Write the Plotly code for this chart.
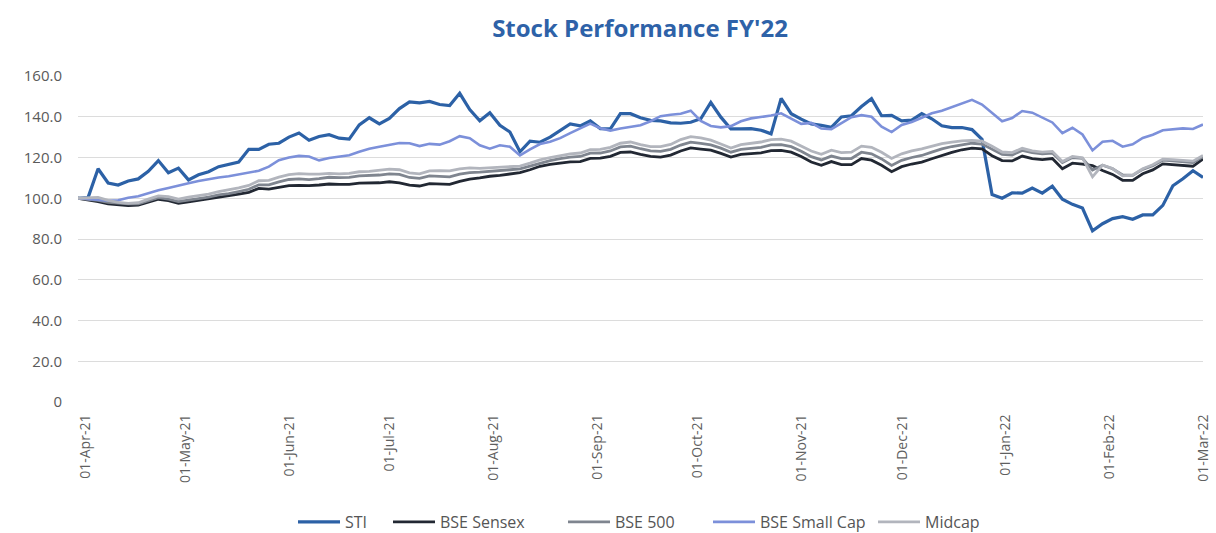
import pandas as pd
import plotly.graph_objects as go

# Trading dates sampled every third day across FY'22
dates = pd.date_range("2021-04-01", periods=113, freq="3D")

sti = [100, 100.3, 114.5, 107.5, 106.5, 108.5, 109.5, 113.2, 118.5, 112.5,
       114.8, 109, 111.5, 113, 115.5, 116.5, 117.8, 124, 124, 126.5,
       127, 130, 132, 128.5, 130.3, 131.2, 129.5, 129, 136, 139.5,
       136.5, 139.2, 144, 147.3, 146.8, 147.5, 146, 145.5, 151.5, 143.5,
       138, 142, 135.8, 132.5, 122.8, 128, 127.5, 130, 133.3, 136.5,
       135.5, 138, 134.2, 134, 141.5, 141.5, 139.5, 138.2, 138, 137,
       136.8, 137.3, 139, 147, 139.8, 134, 134, 134.2, 133.4, 131.6,
       149, 141.5, 138.8, 136.5, 135.8, 134.8, 139.9, 140.5, 145, 148.9,
       140.5, 140.7, 138, 138.3, 141.5, 139, 135.6, 134.7, 134.7, 133.7,
       128.9, 101.8, 100, 102.7, 102.5, 105, 102.5, 105.9, 99.5, 97,
       95.2, 84, 87.5, 90, 91, 89.7, 91.8, 91.8, 96.5, 106.1,
       109.6, 113.5, 110.2]

sensex = [100, 99.3, 98.3, 97.2, 96.8, 96.4, 96.6, 98, 99.5, 98.8,
          97.5, 98.2, 98.9, 99.7, 100.6, 101.1, 102, 102.9, 104.8, 104.5,
          105.5, 106.2, 106.3, 106.2, 106.5, 107, 106.8, 106.8, 107.4, 107.4,
          107.6, 108.1, 107.6, 106.4, 106, 107.2, 106.9, 106.8, 108.3, 109.4,
          110, 110.8, 111.2, 111.9, 112.6, 114, 115.7, 116.6, 117.4, 117.9,
          118, 119.6, 119.7, 120.6, 122.5, 122.7, 121.5, 120.5, 120.2, 121.2,
          123.2, 124.7, 124.1, 123.6, 122, 120.2, 121.5, 122, 122.3, 123.4,
          123.5, 122.6, 120.5, 117.8, 116.2, 118, 116.5, 116.5, 119.5, 118.7,
          116.2, 113, 115.5, 116.8, 117.7, 119.4, 121, 122.5, 123.8, 124.6,
          124.2, 120.9, 118.5, 118.3, 120.7, 119.5, 119, 119.5, 114.5, 117.2,
          116.8, 116, 113.6, 111.7, 108.8, 108.8, 112, 113.9, 116.9, 116.6,
          116.2, 115.7, 119.3]

bse500 = [100, 99.6, 99, 98, 97.6, 97.2, 97.3, 98.8, 100.3, 99.6,
          98.4, 99.1, 99.8, 100.6, 101.7, 102.3, 103.3, 104.4, 106.6, 106.6,
          108, 109.2, 109.5, 109.1, 109.6, 110.3, 110.1, 110.2, 111, 111.1,
          111.4, 112, 111.7, 110.2, 109.8, 111, 110.8, 110.5, 111.8, 112.6,
          112.8, 113.3, 113.5, 114, 114.4, 115.8, 117.4, 118.5, 119.5, 120.2,
          120.5, 122.1, 122.2, 123.2, 125.2, 125.6, 124.3, 123.2, 123, 124,
          126.1, 127.5, 126.9, 126.2, 124.6, 122.6, 124, 124.6, 125, 126.2,
          126.3, 125.3, 123.1, 120.4, 118.8, 120.7, 119.4, 119.5, 122.6, 121.8,
          119.3, 116.1, 118.6, 120, 121, 122.6, 124.2, 125.4, 126.2, 127,
          126.6, 124, 121.5, 121.2, 123.5, 122.4, 121.8, 122.2, 117.5, 120,
          119.6, 113.8, 116.2, 114.5, 111.4, 111.2, 114.2, 116, 118.7, 118.4,
          118, 117.5, 120.4]

small_cap = [100, 99.7, 99.3, 98.8, 99, 100.2, 101, 102.5, 103.9, 105,
             106.3, 107.4, 108.5, 109.5, 110.2, 110.8, 111.6, 112.5, 113.5, 115.5,
             118.7, 120, 120.8, 120.5, 118.6, 119.8, 120.5, 121.1, 122.8, 124.3,
             125.3, 126.2, 127.1, 127, 125.6, 126.7, 126.3, 128, 130.5, 129.5,
             126, 124.3, 126, 125.3, 121, 124, 126.6, 127.7, 129.5, 132,
             134.3, 136.6, 134.4, 133.2, 134.2, 134.9, 135.8, 137.8, 140.3, 141,
             141.5, 143, 138, 135.5, 134.8, 135.4, 137.8, 139.2, 139.8, 140.6,
             141.7, 139, 136.5, 137, 134.2, 133.9, 137, 139.8, 140.8, 140,
             135.1, 132.5, 136, 137.4, 139.5, 141.7, 143, 144.7, 146.6, 148.3,
             146, 141.9, 137.8, 139.4, 142.8, 142, 139.4, 137.2, 132, 134.6,
             131.3, 123.5, 127.7, 128.2, 125.3, 126.5, 129.6, 131.2, 133.4, 134,
             134.3, 134, 136.2]

midcap = [100, 100.2, 100.4, 99, 98, 97.5, 97.8, 99.6, 101.2, 100.8,
          99.6, 100.5, 101.2, 102, 103.2, 104, 105.1, 106.3, 108.6, 108.8,
          110.4, 111.6, 112.1, 111.8, 111.8, 112.2, 112, 112.2, 113, 113.2,
          113.6, 114.3, 114, 112.5, 112, 113.4, 113.5, 113.4, 114.4, 114.9,
          114.7, 115, 115, 115.5, 115.8, 117.2, 118.8, 120, 121, 121.8,
          122.2, 123.8, 124, 125, 127, 127.6, 126.3, 125.3, 125.3, 126.4,
          128.8, 130.2, 129.6, 128.5, 126.6, 124.6, 126.3, 127, 127.6, 128.8,
          129, 128, 125.8, 123.2, 121.6, 123.6, 122.4, 122.6, 125.6, 125,
          122.6, 119.5, 121.8, 123.2, 124.2, 125.6, 126.8, 127.5, 128.2, 128.4,
          128, 125.5, 122.7, 122.4, 124.5, 123.3, 122.6, 123, 118, 120.5,
          119.8, 110.5, 116.3, 114.6, 111, 111.4, 114.5, 116.4, 119.2, 119,
          118.6, 118.2, 121]

month_ticks = pd.date_range("2021-04-01", "2022-03-01", freq="MS")
month_labels = [d.strftime("%d-%b-%y") for d in month_ticks]
y_ticks = [0, 20, 40, 60, 80, 100, 120, 140, 160]
y_labels = ["0"] + [f"{v:.1f}" for v in y_ticks[1:]]

# name, values, colour, width, legend id, legend left edge (px)
series = [
    ("STI", sti, "#2c61a6", 3.2, "legend", 293),
    ("BSE Sensex", sensex, "#222833", 2.8, "legend2", 388),
    ("BSE 500", bse500, "#7f858f", 2.8, "legend3", 563),
    ("BSE Small Cap", small_cap, "#7c90da", 2.6, "legend4", 708),
    ("Midcap", midcap, "#b2b5bd", 2.8, "legend5", 873),
]

W, H = 1216, 533
fig = go.Figure()
legends = {}
for name, values, color, width, leg, left in series:
    fig.add_trace(go.Scatter(
        x=dates, y=values, name=name, mode="lines",
        line=dict(color=color, width=width),
        legend=leg,
    ))
    legends[leg] = dict(
        xref="container", yref="container",
        x=left / W, xanchor="left",
        y=(H - 522) / H, yanchor="middle",
        orientation="h",
        itemwidth=42,
        font=dict(family="Open Sans", size=16, color="#555555"),
        bgcolor="rgba(0,0,0,0)",
    )

fig.update_layout(
    width=W, height=H,
    margin=dict(l=78, r=13, t=76, b=131, autoexpand=False),
    paper_bgcolor="white", plot_bgcolor="white",
    font=dict(family="Open Sans", color="#5a5a5a"),
    title=dict(
        text="<b>Stock Performance FY'22</b>",
        x=640 / W, xanchor="center", y=(H - 29) / H, yanchor="middle",
        font=dict(family="Open Sans", size=24, color="#2e62a8"),
    ),
    showlegend=True,
    **legends,
)

fig.update_xaxes(
    type="date",
    range=[dates[0], dates[-1]],
    tickvals=month_ticks, ticktext=month_labels,
    tickangle=-90,
    ticklabelshift=7,
    tickfont=dict(size=14, color="#5f5f5f"),
    ticks="outside", ticklen=6, tickcolor="rgba(0,0,0,0)",
    showgrid=False, zeroline=False, showline=False,
    automargin=False,
)

fig.update_yaxes(
    range=[0, 160],
    tickvals=y_ticks, ticktext=y_labels,
    tickfont=dict(size=15, color="#5a5a5a"),
    ticks="outside", ticklen=12, tickcolor="rgba(0,0,0,0)",
    showgrid=True, gridcolor="#dcdcdc", gridwidth=1,
    zeroline=False, showline=False,
    automargin=False,
)

fig.write_html("out.html")
